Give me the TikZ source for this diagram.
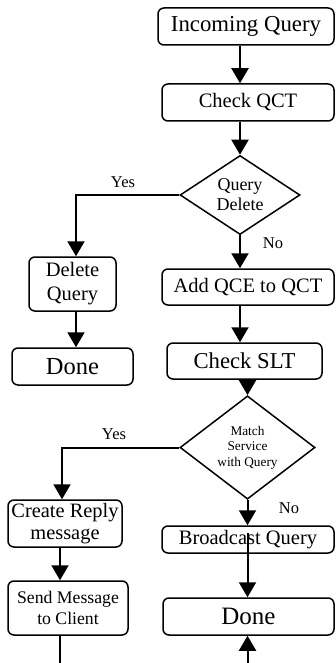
\documentclass[tikz,border=0pt]{standalone}
\usepackage{fontspec}
\setmainfont{Liberation Serif}
\usetikzlibrary{arrows.meta,shapes.geometric}
\begin{document}
\begin{tikzpicture}[x=1pt,y=-1pt,
  box/.style={draw, line width=1.5pt, rounded corners=6pt, inner sep=0pt, align=center, font=\fontsize{20.5}{24}\selectfont},
  dec/.style={draw, diamond, line width=1.5pt, inner sep=0pt, align=center},
  arr/.style={line width=2pt, -{Triangle[width=17pt,length=15pt]}},
  ln/.style={line width=2pt},
  lab/.style={font=\fontsize{16.5}{18}\selectfont, inner sep=0pt}]
\useasboundingbox (0,0) rectangle (335,663);
\node[box, minimum width=176pt, minimum height=37pt, font=\fontsize{22.8}{26}\selectfont] (inq) at (246,26.5) {Incoming Query};
\node[box, minimum width=172pt, minimum height=37pt] (cqct) at (248,102.5) {Check QCT};
\node[dec, minimum width=120pt, minimum height=74pt, font=\fontsize{18}{20}\selectfont] (d1) at (240,195) {\raisebox{-3pt}{Query}\\\raisebox{-3pt}{Delete}};
\node[box, minimum width=87pt, minimum height=54pt] (delq) at (72.5,284) {Delete\\Query};
\node[box, minimum width=121pt, minimum height=37pt, font=\fontsize{24.5}{28}\selectfont] (done1) at (72.5,366.5) {Done};
\node[box, minimum width=172pt, minimum height=36pt] (addq) at (248,287) {Add QCE to QCT};
\node[box, minimum width=155pt, minimum height=36pt, font=\fontsize{22.7}{26}\selectfont] (cslt) at (244.5,361) {Check SLT};
\node[dec, minimum width=135pt, minimum height=95pt, font=\fontsize{13.3}{15.5}\selectfont] (d2) at (247.5,447.5) {Match\\Service\\with Query};
\node[box, minimum width=114pt, minimum height=47pt, font=\fontsize{20.4}{21.5}\selectfont] (crm) at (65,523.5) {Create Reply\\message};
\node[box, minimum width=120pt, minimum height=54pt, font=\fontsize{17.7}{21}\selectfont] (smc) at (68,608) {Send Message\\to Client};
\node[box, minimum width=172pt, minimum height=27pt] (bq) at (248,539.5) {Broadcast Query};
\node[box, minimum width=171pt, minimum height=37pt, font=\fontsize{25}{28}\selectfont] (done2) at (248.5,616.5) {Done};
\node[lab] (y1) at (123,182) {Yes};
\node[lab] (n1) at (273,243) {No};
\node[lab] (y2) at (114,434) {Yes};
\node[lab] (n2) at (289,508) {No};
\draw[arr] (inq.south -| d1.north) -- (cqct.north -| d1.north);
\draw[arr] (cqct.south -| d1.north) -- (d1.north);
\coordinate (k1) at (76,195);
\draw[arr] (d1.west) -- (k1) -- (k1 |- delq.north);
\draw[arr] (k1 |- delq.south) -- (k1 |- done1.north);
\draw[arr] (d1.south) -- (d1.south |- addq.north);
\draw[arr] (addq.south -| d1.south) -- (cslt.north -| d1.south);
\draw[arr] (cslt.south -| d2.north) -- (d2.north);
\coordinate (k2) at (62,447.5);
\draw[arr] (d2.west) -- (k2) -- (k2 |- crm.north);
\coordinate (k3) at (60,663);
\draw[arr] (k3 |- crm.south) -- (k3 |- smc.north);
\draw[ln] (k3 |- smc.south) -- (k3);
\draw[arr] (d2.south) -- (d2.south |- bq.north);
\coordinate (k5) at (247.5,533);
\draw[arr] (k5) -- (k5 |- done2.north);
\coordinate (k4) at (247.5,663);
\draw[arr] (k4) -- (k4 |- done2.south);
\end{tikzpicture}
\end{document}
